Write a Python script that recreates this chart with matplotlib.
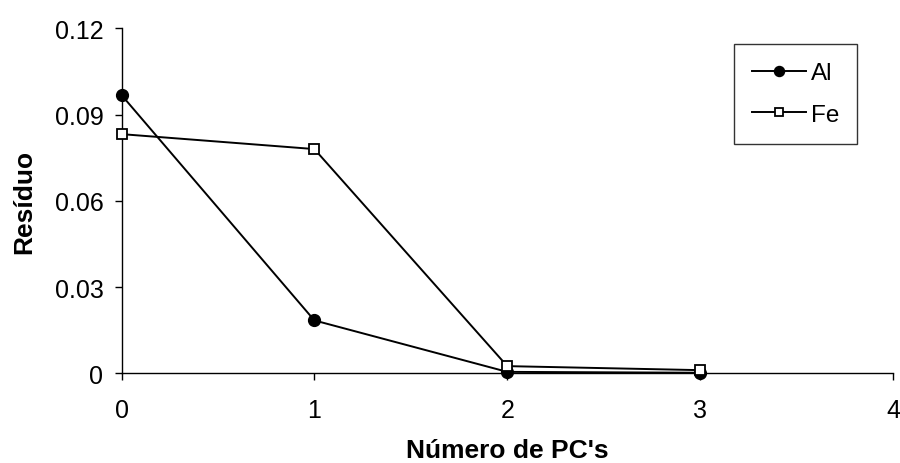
import matplotlib.pyplot as plt

plt.rcParams['font.family'] = ['Liberation Sans', 'DejaVu Sans']

# number of principal components and residuals
n_pc = [0, 1, 2, 3]
res_al = [0.0968, 0.0184, 0.0005, 0.0002]
res_fe = [0.0832, 0.0780, 0.0025, 0.0011]

fig = plt.figure(figsize=(9, 4.64), dpi=100)
ax = fig.add_axes([0.135, 0.1933, 0.8572, 0.7435])

ax.plot(n_pc, res_al, '-', color='k', lw=1.4, marker='o', ms=8.5,
        mfc='k', mec='k', label='Al', clip_on=False, zorder=3)
ax.plot(n_pc, res_fe, '-', color='k', lw=1.4, marker='s', ms=7.5,
        mfc='white', mec='k', mew=1.3, label='Fe', clip_on=False, zorder=3)

ax.set_xlim(0, 4)
ax.set_ylim(0, 0.12)
ax.set_xticks([0, 1, 2, 3, 4])
ax.set_yticks([0, 0.03, 0.06, 0.09, 0.12])
ax.set_yticklabels(['0', '0.03', '0.06', '0.09', '0.12'])
ax.tick_params(direction='out', length=5, width=1, labelsize=18, pad=8)
ax.tick_params(axis='x', pad=12.5)

for s in ['top', 'right']:
    ax.spines[s].set_visible(False)
for s in ['left', 'bottom']:
    ax.spines[s].set_linewidth(1)

ax.set_xlabel("Número de PC's", fontsize=19, fontweight='bold', labelpad=12)
ax.set_ylabel('Resíduo', fontsize=19, fontweight='bold', labelpad=13)

leg = ax.legend(loc='upper left', bbox_to_anchor=(0.794, 0.9545), fontsize=17.5,
                frameon=True, fancybox=False, edgecolor='k', handlelength=2.2,
                markerscale=0.85, labelspacing=0.8, borderpad=0.75,
                handletextpad=0.2, borderaxespad=0)
leg.get_frame().set_linewidth(1)

fig.savefig('out.png', dpi=100)
